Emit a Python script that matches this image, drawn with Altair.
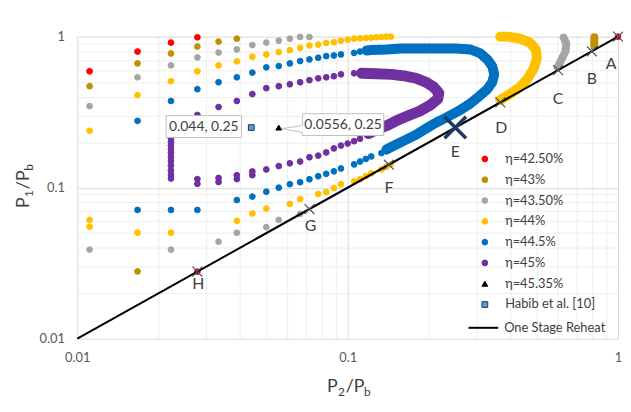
import altair as alt
import pandas as pd

# ---------------- data ----------------
SERIES = ["η=42.50%", "η=43%", "η=43.50%", "η=44%", "η=44.5%", "η=45%",
          "η=45.35%", "Habib et al. [10]"]

red_x = [0.0111, 0.0167, 0.0222, 0.0278, 0.0278, 1.0]
red_y = [0.590, 0.797, 0.913, 0.990, 0.0278, 1.0]

gold_x = [0.0111, 0.0167, 0.0222, 0.0278, 0.0333, 0.0389, 0.0167]
gold_y = [0.470, 0.665, 0.774, 0.860, 0.927, 0.970, 0.0279]

gray_x = [0.0111, 0.0167, 0.0222, 0.0278, 0.0333, 0.0389, 0.0444, 0.05, 0.0556,
          0.0611, 0.0667, 0.0722,
          0.0111, 0.0222, 0.0333, 0.0389, 0.05, 0.0556, 0.0667]
gray_y = [0.347, 0.538, 0.645, 0.728, 0.785, 0.822, 0.880, 0.913, 0.940,
          0.970, 0.995, 0.995,
          0.0389, 0.0389, 0.0439, 0.0503, 0.0548, 0.0612, 0.067]

yellow_x = [0.0111, 0.0167, 0.0222, 0.0278, 0.0333, 0.0389, 0.0444, 0.05, 0.0556,
            0.0611, 0.0667, 0.0722, 0.0778, 0.0833, 0.0889, 0.0944, 0.1, 0.1056,
            0.1111, 0.1167, 0.1222, 0.1278, 0.1333, 0.1389, 0.1444,
            0.0111, 0.0111, 0.0167, 0.0222, 0.0389, 0.0444, 0.05, 0.0611, 0.0667,
            0.0778, 0.0833, 0.0889, 0.0944, 0.1056, 0.1111, 0.1167, 0.1222,
            0.1333, 0.1389, 0.1444]
yellow_y = [0.238, 0.410, 0.507, 0.590, 0.645, 0.686, 0.737, 0.762, 0.789,
            0.813, 0.843, 0.873, 0.886, 0.909, 0.918, 0.940, 0.955, 0.970,
            0.975, 0.980, 0.985, 0.990, 0.995, 1.0, 1.0,
            0.0612, 0.0551, 0.0503, 0.0503, 0.0603, 0.0675, 0.0727, 0.078, 0.0841,
            0.0907, 0.0934, 0.0993, 0.1054, 0.110, 0.1137, 0.119, 0.1245,
            0.132, 0.1374, 0.1426]

blue_x = [0.0167, 0.0222, 0.0278, 0.0333, 0.0389, 0.0444, 0.05, 0.0556, 0.0611,
          0.0667, 0.0722, 0.0778, 0.0833, 0.0889, 0.0944, 0.1056, 0.1111,
          0.0167, 0.0222, 0.0278, 0.0389, 0.0444, 0.05, 0.0556, 0.0611, 0.0667,
          0.0722, 0.0778, 0.0833, 0.0889, 0.0944, 0.1056, 0.1111, 0.1167,
          0.1222, 0.1333, 0.1389]
blue_y = [0.277, 0.375, 0.449, 0.499, 0.538, 0.578, 0.626, 0.639, 0.665,
          0.689, 0.707, 0.725, 0.743, 0.750, 0.762, 0.780, 0.797,
          0.0712, 0.0712, 0.0712, 0.0828, 0.0873, 0.0941, 0.100, 0.1054, 0.1087,
          0.1137, 0.119, 0.1235, 0.1283, 0.134, 0.1426, 0.149, 0.155,
          0.161, 0.1695, 0.175]

purple_x = [0.0278, 0.0333, 0.0389, 0.0444, 0.05, 0.0556, 0.0611, 0.0667, 0.0722,
            0.0778, 0.0833, 0.0889, 0.0944, 0.1056, 0.1111,
            0.0222, 0.0222, 0.0222, 0.0222, 0.0222, 0.0222, 0.0222, 0.0222,
            0.0222, 0.0222, 0.0222, 0.0222,
            0.0278, 0.0278, 0.0333, 0.0333, 0.0389, 0.0389, 0.0444, 0.0444,
            0.05, 0.0556, 0.0611, 0.0667, 0.0722, 0.0778, 0.0833, 0.0889,
            0.0944, 0.1, 0.1056, 0.1111]
purple_y = [0.303, 0.342, 0.375, 0.417, 0.456, 0.470, 0.484, 0.499, 0.515,
            0.530, 0.538, 0.547, 0.563, 0.572, 0.581,
            0.220, 0.210, 0.200, 0.190, 0.180, 0.170, 0.160, 0.150,
            0.140, 0.130, 0.122, 0.115,
            0.114, 0.106, 0.116, 0.109, 0.121, 0.114, 0.128, 0.121,
            0.132, 0.139, 0.145, 0.149, 0.159, 0.163, 0.171, 0.182,
            0.190, 0.196, 0.203, 0.211]

tri_x = [0.0556]
tri_y = [0.25]
habib_x = [0.044]
habib_y = [0.25]

# dense (overlapping) parts of the series, read along their middle
blue_band_x = [0.1174, 0.1224, 0.139, 0.1577, 0.1789, 0.2118, 0.2508, 0.2847,
               0.3097, 0.3285, 0.3426, 0.3484, 0.3426, 0.3285, 0.3071, 0.2823,
               0.2573, 0.2304, 0.2118, 0.1947, 0.1789, 0.1645, 0.1512, 0.139]
blue_band_y = [0.810, 0.815, 0.822, 0.834, 0.834, 0.834, 0.834, 0.822,
               0.774, 0.707, 0.636, 0.563, 0.499, 0.449, 0.404, 0.358,
               0.322, 0.290, 0.269, 0.246, 0.224, 0.208, 0.193, 0.179]

purple_band_x = [0.1126, 0.1277, 0.145, 0.1645, 0.1789, 0.1947, 0.2083, 0.2173,
                 0.2154, 0.2023, 0.1850, 0.1673, 0.1512, 0.139, 0.1277, 0.1194]
purple_band_y = [0.572, 0.568, 0.563, 0.547, 0.530, 0.499, 0.463, 0.423,
                 0.386, 0.353, 0.322, 0.299, 0.277, 0.257, 0.242, 0.228]

yellow_band_x = [0.3665, 0.399, 0.434, 0.464, 0.488, 0.501, 0.497, 0.472,
                 0.434, 0.392, 0.3665]
yellow_band_y = [0.3805, 0.417, 0.463, 0.530, 0.617, 0.717, 0.822, 0.913,
                 0.970, 1.0, 1.0]

gray_band_x = [0.598, 0.618, 0.639, 0.644, 0.629]
gray_band_y = [0.626, 0.707, 0.797, 0.900, 0.985]

gold_band_x = [0.817, 0.817]
gold_band_y = [0.86, 0.99]

line_x = [0.01, 1.0]
line_y = [0.01, 1.0]

mark_labels = ["A", "B", "C", "D", "F", "G", "H"]
mark_x = [1.0, 0.8, 0.6, 0.367, 0.142, 0.0722, 0.0278]
mark_y = [1.0, 0.8, 0.6, 0.367, 0.142, 0.0722, 0.0278]
e_x = [0.25]
e_y = [0.25]

TICKS = [0.01, 0.02, 0.03, 0.04, 0.05, 0.06, 0.07, 0.08, 0.09,
         0.1, 0.2, 0.3, 0.4, 0.5, 0.6, 0.7, 0.8, 0.9, 1.0]

# ---------------- styles ----------------
FILLS = ["#FF0000", "#BF9000", "#A5A5A5", "#FFC000", "#0070C0", "#7030A0",
         "#000000", "#5B9BD5"]
STROKES = ["#FF0000", "#BF9000", "#A5A5A5", "#FFC000", "#0070C0", "#7030A0",
           "#000000", "#1F3864"]
SHAPES = ["circle"] * 6 + ["triangle-up", "square"]
SIZES = [34] * 6 + [60, 60]
FONT = "Lato"
XSHAPE = "M-1,-1L1,1M1,-1L-1,1"
LABEL_OFFSETS = {"A": (-7, 28), "B": (0, 28), "C": (0, 29), "D": (1, 26),
                 "E": (0, 25), "F": (0, 24), "G": (1, 17), "H": (1, 13)}

rows = []
for name, xs, ys in [(SERIES[0], red_x, red_y), (SERIES[1], gold_x, gold_y),
                     (SERIES[2], gray_x, gray_y), (SERIES[3], yellow_x, yellow_y),
                     (SERIES[4], blue_x, blue_y), (SERIES[5], purple_x, purple_y),
                     (SERIES[6], tri_x, tri_y), (SERIES[7], habib_x, habib_y)]:
    for a, b in zip(xs, ys):
        rows.append({"x": a, "y": b, "series": name})
pts = pd.DataFrame(rows)

scale_x = alt.Scale(type="log", domain=[0.01, 1], nice=False)
scale_y = alt.Scale(type="log", domain=[0.01, 1], nice=False)

grid_color = {"condition": {"test": "datum.value == 0.01 || datum.value == 0.1 || datum.value == 1",
                            "value": "#D9D9D9"}, "value": "#EDEDED"}
label_expr = "datum.value == 0.01 ? '0.01' : datum.value == 0.1 ? '0.1' : datum.value == 1 ? '1' : ''"
xaxis = alt.Axis(values=TICKS, labelExpr=label_expr, grid=True, gridColor=grid_color,
                 domain=False, ticks=False, labelPadding=13, labelFont=FONT,
                 labelFontSize=13, labelColor="#595959", title=None,
                 labelFlush=False, labelOverlap=False)
yaxis = alt.Axis(values=TICKS, labelExpr=label_expr, grid=True, gridColor=grid_color,
                 domain=False, ticks=False, labelPadding=13, labelFont=FONT,
                 labelFontSize=13, labelColor="#595959", title=None,
                 labelFlush=False, labelOverlap=False)

X = alt.X("x:Q", scale=scale_x, axis=xaxis)
Y = alt.Y("y:Q", scale=scale_y, axis=yaxis)

layers = []

# dense bands
for bx, by, col, w in [(gold_band_x, gold_band_y, FILLS[1], 8),
                       (gray_band_x, gray_band_y, FILLS[2], 8),
                       (yellow_band_x, yellow_band_y, FILLS[3], 10),
                       (blue_band_x, blue_band_y, FILLS[4], 10),
                       (purple_band_x, purple_band_y, FILLS[5], 11)]:
    dfb = pd.DataFrame({"x": bx, "y": by, "i": list(range(len(bx)))})
    layers.append(alt.Chart(dfb).mark_line(color=col, strokeWidth=w, strokeCap="round",
                                           strokeJoin="round")
                  .encode(x=X, y=Y, order="i:Q"))

leg = alt.Legend(orient="none", legendX=405, legendY=117, title=None,
                 labelFont=FONT, labelFontSize=13, labelColor="#404040",
                 labelOffset=14, rowPadding=7, symbolStrokeWidth=1, padding=0)

layers.append(alt.Chart(pts).mark_point(filled=True, opacity=1, strokeWidth=1).encode(
    x=X, y=Y,
    fill=alt.Fill("series:N", scale=alt.Scale(domain=SERIES, range=FILLS), legend=leg),
    stroke=alt.Stroke("series:N", scale=alt.Scale(domain=SERIES, range=STROKES), legend=leg),
    shape=alt.Shape("series:N", scale=alt.Scale(domain=SERIES, range=SHAPES), legend=leg),
    size=alt.Size("series:N", scale=alt.Scale(domain=SERIES, range=SIZES), legend=leg),
))

# callout boxes
box1 = "M-86,-12H-10V10H-86Z"
box2 = "M24,-14H106V8H24V5L3,1L24,-2Z"
for bx, by, path, txt, dx, dy in [(habib_x, habib_y, box1, "0.044, 0.25", -48, -1),
                                  (tri_x, tri_y, box2, "0.0556, 0.25", 65, -3)]:
    dfc = pd.DataFrame({"x": bx, "y": by, "t": [txt]})
    layers.append(alt.Chart(dfc).mark_point(shape=path, size=4, filled=True, fill="white",
                                            stroke="#BFBFBF", strokeWidth=1, opacity=1)
                  .encode(x=X, y=Y))
    layers.append(alt.Chart(dfc).mark_text(dx=dx, dy=dy, font=FONT, fontSize=14,
                                           color="#404040", baseline="middle")
                  .encode(x=X, y=Y, text="t:N"))

# one stage reheat line
dfl = pd.DataFrame({"x": line_x, "y": line_y, "name": ["One Stage Reheat"] * 2})
leg2 = alt.Legend(orient="none", legendX=394, legendY=278, title=None,
                  symbolType="stroke", symbolSize=900, symbolStrokeWidth=2,
                  labelFont=FONT, labelFontSize=13, labelColor="#404040",
                  labelOffset=5, padding=0)
layers.append(alt.Chart(dfl).mark_line(strokeWidth=2).encode(
    x=X, y=Y,
    color=alt.Color("name:N", scale=alt.Scale(domain=["One Stage Reheat"], range=["#000000"]),
                    legend=leg2)))

# cross markers and letters
dfm = pd.DataFrame({"x": mark_x, "y": mark_y, "t": mark_labels})
layers.append(alt.Chart(dfm).mark_point(shape=XSHAPE, size=100, filled=False,
                                        stroke="#44546A", strokeWidth=1.2, opacity=1)
              .encode(x=X, y=Y))
dfe = pd.DataFrame({"x": e_x, "y": e_y, "t": ["E"]})
layers.append(alt.Chart(dfe).mark_point(shape=XSHAPE, size=470, filled=False,
                                        stroke="#1F3864", strokeWidth=3.5, opacity=1)
              .encode(x=X, y=Y))
for df_, lab in [(dfm, l) for l in mark_labels] + [(dfe, "E")]:
    dx, dy = LABEL_OFFSETS[lab]
    layers.append(alt.Chart(df_).transform_filter(alt.datum.t == lab)
                  .mark_text(dx=dx, dy=dy, font=FONT, fontSize=16, color="#404040",
                             baseline="middle")
                  .encode(x=X, y=Y, text="t:N"))

# axis titles with subscripts
tdf = pd.DataFrame({"a": [0]})
for txt, dx, dy, fs in [("P", 0, 0, 18), ("2", 11.2, 4, 12), ("/P", 19, 0, 18), ("b", 37.5, 4, 12)]:
    layers.append(alt.Chart(tdf).mark_text(text=txt, dx=dx, dy=dy, fontSize=fs, font=FONT,
                                           color="#404040", align="left", baseline="alphabetic")
                  .encode(x=alt.value(252), y=alt.value(359)))
for txt, dx, dy, fs in [("P", 0, 0, 18), ("1", 11.2, 4, 12), ("/P", 19, 0, 18), ("b", 37.5, 4, 12)]:
    layers.append(alt.Chart(tdf).mark_text(text=txt, dx=dx, dy=dy, fontSize=fs, font=FONT,
                                           color="#404040", align="left", baseline="alphabetic",
                                           angle=270)
                  .encode(x=alt.value(-49), y=alt.value(173)))

chart = alt.layer(*layers).properties(
    width=546, height=305, autosize="none",
    padding={"left": 70, "top": 27, "right": 5, "bottom": 62},
    background="white",
).configure_view(strokeWidth=0)

chart.save("out.html", embed_options={"renderer": "svg", "actions": False})
